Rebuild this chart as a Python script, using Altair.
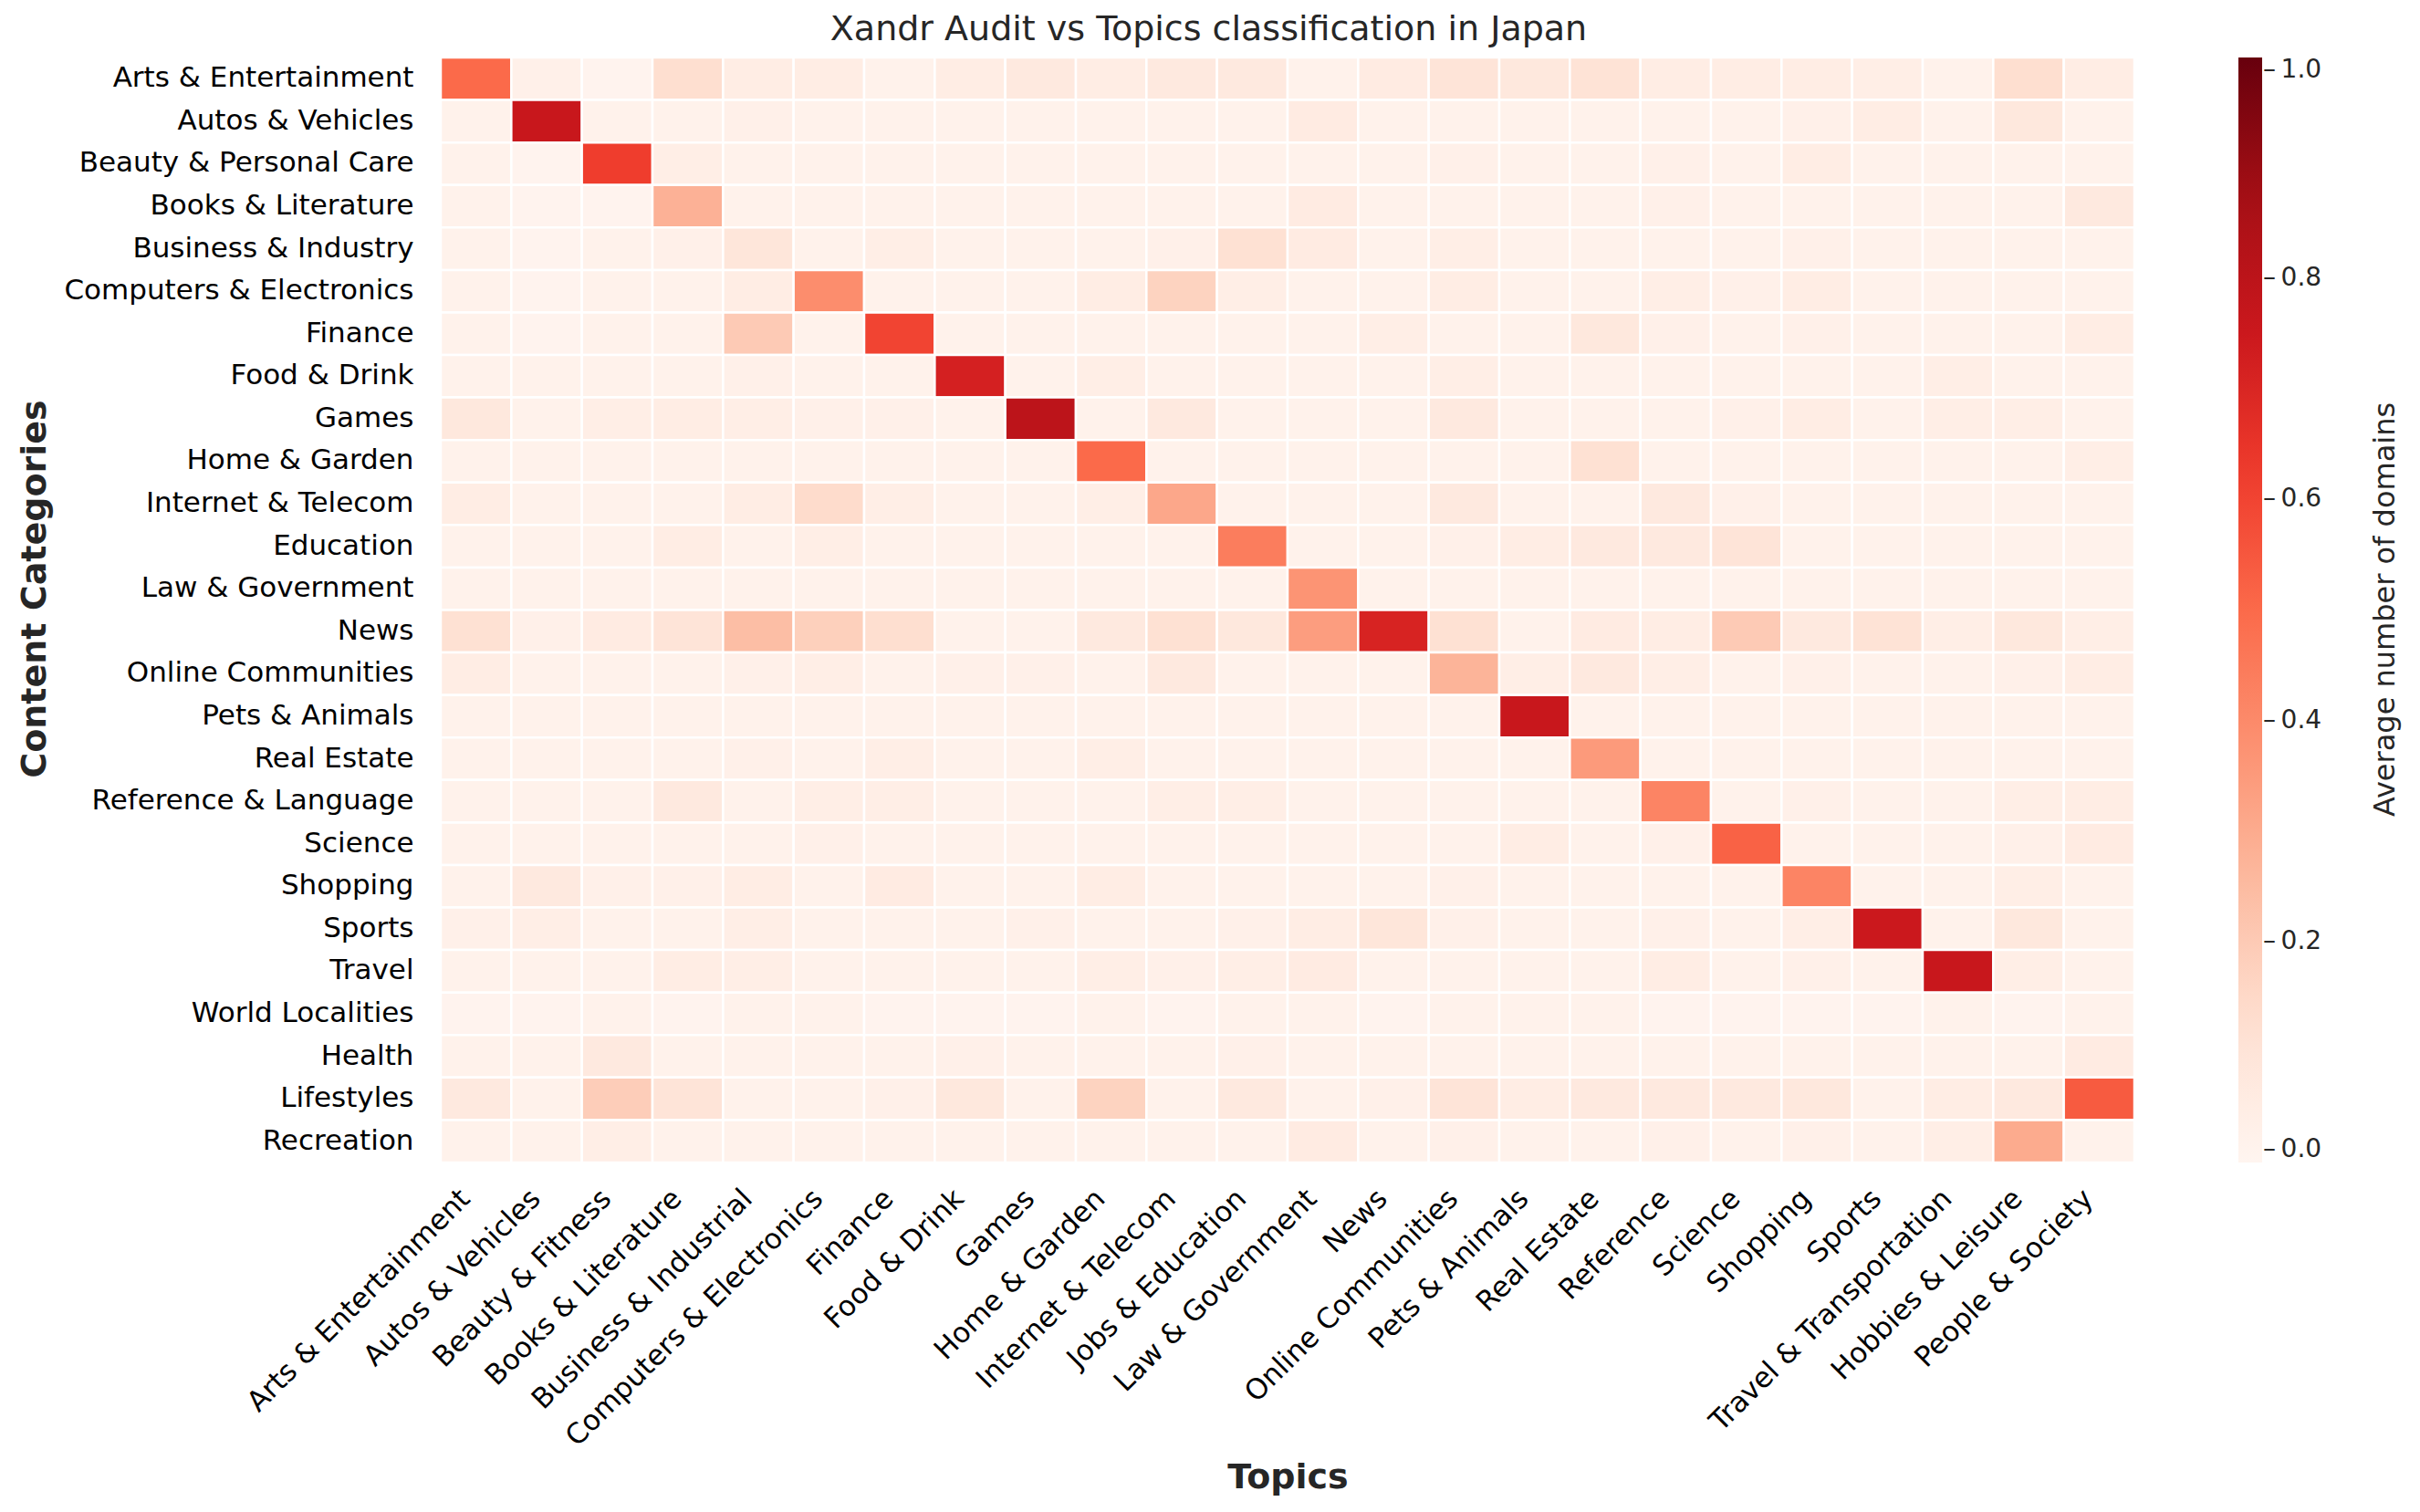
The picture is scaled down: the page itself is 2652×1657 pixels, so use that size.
import altair as alt
import pandas as pd

categories = ["Arts & Entertainment", "Autos & Vehicles", "Beauty & Personal Care", "Books & Literature",
              "Business & Industry", "Computers & Electronics", "Finance", "Food & Drink", "Games",
              "Home & Garden", "Internet & Telecom", "Education", "Law & Government", "News",
              "Online Communities", "Pets & Animals", "Real Estate", "Reference & Language", "Science",
              "Shopping", "Sports", "Travel", "World Localities", "Health", "Lifestyles", "Recreation"]

topics = ["Arts & Entertainment", "Autos & Vehicles", "Beauty & Fitness", "Books & Literature",
          "Business & Industrial", "Computers & Electronics", "Finance", "Food & Drink", "Games",
          "Home & Garden", "Internet & Telecom", "Jobs & Education", "Law & Government", "News",
          "Online Communities", "Pets & Animals", "Real Estate", "Reference", "Science", "Shopping",
          "Sports", "Travel & Transportation", "Hobbies & Leisure", "People & Society"]

row_arts = [0.50, 0.03, 0.01, 0.13, 0.05, 0.05, 0.02, 0.05, 0.07, 0.05, 0.07, 0.07, 0.02, 0.06, 0.10, 0.08, 0.11, 0.05, 0.05, 0.05, 0.04, 0.02, 0.13, 0.05]
row_autos = [0.02, 0.76, 0.02, 0.02, 0.03, 0.02, 0.02, 0.02, 0.02, 0.02, 0.02, 0.02, 0.06, 0.02, 0.02, 0.02, 0.02, 0.02, 0.02, 0.03, 0.05, 0.02, 0.08, 0.02]
row_beauty = [0.02, 0.01, 0.62, 0.04, 0.02, 0.02, 0.02, 0.02, 0.02, 0.02, 0.02, 0.02, 0.02, 0.02, 0.03, 0.02, 0.02, 0.03, 0.02, 0.05, 0.02, 0.02, 0.02, 0.02]
row_books = [0.02, 0.01, 0.01, 0.28, 0.02, 0.02, 0.02, 0.02, 0.02, 0.02, 0.02, 0.02, 0.06, 0.02, 0.02, 0.02, 0.02, 0.03, 0.02, 0.02, 0.02, 0.02, 0.02, 0.07]
row_business = [0.02, 0.01, 0.02, 0.03, 0.09, 0.02, 0.04, 0.02, 0.02, 0.02, 0.03, 0.12, 0.06, 0.02, 0.04, 0.02, 0.02, 0.02, 0.02, 0.03, 0.02, 0.02, 0.02, 0.02]
row_computers = [0.02, 0.01, 0.02, 0.02, 0.05, 0.39, 0.02, 0.02, 0.02, 0.05, 0.17, 0.04, 0.02, 0.02, 0.05, 0.02, 0.02, 0.04, 0.03, 0.05, 0.02, 0.02, 0.02, 0.02]
row_finance = [0.02, 0.01, 0.02, 0.02, 0.20, 0.02, 0.60, 0.02, 0.02, 0.02, 0.02, 0.02, 0.02, 0.04, 0.02, 0.02, 0.08, 0.03, 0.02, 0.03, 0.02, 0.02, 0.02, 0.05]
row_food = [0.02, 0.02, 0.02, 0.02, 0.03, 0.02, 0.02, 0.72, 0.02, 0.04, 0.02, 0.02, 0.02, 0.02, 0.04, 0.02, 0.02, 0.02, 0.02, 0.02, 0.02, 0.04, 0.02, 0.02]
row_games = [0.08, 0.02, 0.04, 0.05, 0.04, 0.03, 0.03, 0.02, 0.80, 0.02, 0.07, 0.02, 0.02, 0.02, 0.07, 0.02, 0.02, 0.02, 0.03, 0.05, 0.02, 0.04, 0.04, 0.02]
row_home = [0.02, 0.02, 0.02, 0.02, 0.02, 0.02, 0.02, 0.02, 0.02, 0.50, 0.02, 0.02, 0.02, 0.02, 0.02, 0.02, 0.12, 0.02, 0.02, 0.02, 0.02, 0.02, 0.02, 0.04]
row_internet = [0.05, 0.02, 0.02, 0.02, 0.05, 0.14, 0.04, 0.02, 0.02, 0.04, 0.31, 0.02, 0.02, 0.02, 0.07, 0.02, 0.02, 0.07, 0.03, 0.02, 0.02, 0.02, 0.02, 0.02]
row_education = [0.02, 0.02, 0.02, 0.05, 0.02, 0.04, 0.02, 0.02, 0.02, 0.02, 0.02, 0.44, 0.02, 0.02, 0.03, 0.05, 0.07, 0.07, 0.10, 0.02, 0.02, 0.02, 0.02, 0.02]
row_law = [0.02, 0.02, 0.02, 0.02, 0.02, 0.02, 0.02, 0.02, 0.02, 0.02, 0.02, 0.02, 0.37, 0.02, 0.02, 0.02, 0.02, 0.02, 0.02, 0.02, 0.02, 0.02, 0.02, 0.02]
row_news = [0.12, 0.03, 0.06, 0.10, 0.24, 0.18, 0.13, 0.02, 0.02, 0.07, 0.12, 0.08, 0.34, 0.71, 0.12, 0.02, 0.06, 0.05, 0.20, 0.07, 0.11, 0.04, 0.08, 0.04]
row_online = [0.05, 0.02, 0.02, 0.02, 0.03, 0.04, 0.02, 0.03, 0.03, 0.02, 0.07, 0.02, 0.02, 0.02, 0.27, 0.04, 0.07, 0.04, 0.02, 0.03, 0.02, 0.02, 0.03, 0.05]
row_pets = [0.02, 0.02, 0.02, 0.02, 0.02, 0.02, 0.02, 0.02, 0.02, 0.02, 0.02, 0.02, 0.02, 0.02, 0.02, 0.76, 0.02, 0.02, 0.02, 0.02, 0.02, 0.02, 0.02, 0.02]
row_realestate = [0.02, 0.02, 0.02, 0.02, 0.03, 0.02, 0.04, 0.02, 0.02, 0.04, 0.02, 0.02, 0.02, 0.02, 0.02, 0.02, 0.35, 0.02, 0.02, 0.02, 0.02, 0.02, 0.02, 0.02]
row_reference = [0.02, 0.02, 0.02, 0.07, 0.02, 0.04, 0.04, 0.02, 0.02, 0.02, 0.04, 0.04, 0.02, 0.02, 0.02, 0.02, 0.02, 0.42, 0.02, 0.03, 0.02, 0.02, 0.04, 0.05]
row_science = [0.02, 0.02, 0.02, 0.02, 0.02, 0.03, 0.02, 0.02, 0.02, 0.02, 0.02, 0.02, 0.02, 0.02, 0.02, 0.05, 0.02, 0.03, 0.52, 0.02, 0.02, 0.02, 0.03, 0.06]
row_shopping = [0.02, 0.07, 0.03, 0.03, 0.05, 0.02, 0.06, 0.02, 0.02, 0.05, 0.02, 0.02, 0.02, 0.02, 0.03, 0.02, 0.02, 0.02, 0.02, 0.42, 0.02, 0.02, 0.04, 0.02]
row_sports = [0.03, 0.04, 0.02, 0.02, 0.04, 0.02, 0.02, 0.02, 0.03, 0.02, 0.02, 0.03, 0.05, 0.09, 0.03, 0.02, 0.02, 0.03, 0.02, 0.04, 0.75, 0.02, 0.08, 0.02]
row_travel = [0.02, 0.02, 0.02, 0.05, 0.04, 0.02, 0.02, 0.02, 0.02, 0.04, 0.03, 0.04, 0.06, 0.02, 0.02, 0.02, 0.02, 0.05, 0.02, 0.03, 0.02, 0.76, 0.04, 0.02]
row_world = [0.01, 0.01, 0.02, 0.01, 0.02, 0.02, 0.01, 0.01, 0.01, 0.02, 0.01, 0.02, 0.02, 0.01, 0.02, 0.02, 0.02, 0.01, 0.01, 0.01, 0.01, 0.02, 0.01, 0.02]
row_health = [0.02, 0.02, 0.07, 0.02, 0.02, 0.02, 0.02, 0.03, 0.02, 0.02, 0.02, 0.03, 0.02, 0.02, 0.02, 0.02, 0.02, 0.02, 0.02, 0.02, 0.02, 0.02, 0.02, 0.06]
row_lifestyles = [0.07, 0.02, 0.19, 0.10, 0.02, 0.02, 0.03, 0.08, 0.02, 0.17, 0.02, 0.07, 0.02, 0.03, 0.10, 0.05, 0.07, 0.07, 0.07, 0.08, 0.02, 0.05, 0.07, 0.54]
row_recreation = [0.02, 0.02, 0.04, 0.02, 0.02, 0.02, 0.02, 0.02, 0.02, 0.02, 0.02, 0.02, 0.06, 0.02, 0.03, 0.02, 0.02, 0.03, 0.02, 0.03, 0.02, 0.04, 0.30, 0.02]

rows = [row_arts, row_autos, row_beauty, row_books, row_business, row_computers, row_finance,
        row_food, row_games, row_home, row_internet, row_education, row_law, row_news, row_online,
        row_pets, row_realestate, row_reference, row_science, row_shopping, row_sports, row_travel,
        row_world, row_health, row_lifestyles, row_recreation]

records = []
for cat, vals in zip(categories, rows):
    for top, v in zip(topics, vals):
        records.append({"Category": cat, "Topic": top, "Value": v})
df = pd.DataFrame(records)

reds_stops = [0, 0.125, 0.25, 0.375, 0.5, 0.625, 0.75, 0.875, 1.0]
reds_colors = ["#fff5f0", "#fee0d2", "#fcbba1", "#fc9272", "#fb6a4a", "#ef3b2c", "#cb181d", "#a50f15", "#67000d"]
colorbar_ticks = [0, 0.2, 0.4, 0.6, 0.8, 1.0]
colorbar_title = "Average number of domains"

FONT = "DejaVu Sans"

heat = alt.Chart(df).mark_rect(stroke="white", strokeWidth=2.5).encode(
    x=alt.X("Topic:N", sort=topics, scale=alt.Scale(paddingInner=0, paddingOuter=0),
            axis=alt.Axis(title="Topics", labelAngle=315, labelAlign="right", labelBaseline="bottom",
                          labelPadding=46, ticks=False, domain=False, labelFontSize=31,
                          labelFont=FONT, labelColor="black", titleFont=FONT, titleFontSize=38,
                          titleFontWeight="bold", titleColor="#262626", titleY=345,
                          titleBaseline="middle", labelLimit=1000)),
    y=alt.Y("Category:N", sort=categories, scale=alt.Scale(paddingInner=0, paddingOuter=0),
            axis=alt.Axis(title="Content Categories", labelPadding=30, ticks=False, domain=False,
                          labelFontSize=31, labelFont=FONT, labelColor="black", titleFont=FONT,
                          titleFontSize=38, titleFontWeight="bold", titleColor="#262626",
                          titleX=-445, titleY=582, titleAngle=270, titleBaseline="middle",
                          titleAlign="center", labelLimit=1000)),
    color=alt.Color("Value:Q",
                    scale=alt.Scale(domain=reds_stops, range=reds_colors, interpolate="rgb"),
                    legend=alt.Legend(title=None, orient="right", offset=114,
                                      gradientLength=1211, gradientThickness=26, direction="vertical",
                                      values=colorbar_ticks, format=".1f",
                                      labelExpr="'\u2013\u2009' + format(datum.value, '.1f')",
                                      labelFontSize=28, labelFont=FONT, labelColor="#262626",
                                      labelOffset=1, gradientStrokeWidth=0)),
)

cb_title = alt.Chart(pd.DataFrame({"t": [colorbar_title]})).mark_text(
    angle=270, fontSize=32, font=FONT, color="#262626", align="center", baseline="middle"
).encode(text="t:N", x=alt.value(2131), y=alt.value(605))

chart = alt.layer(heat, cb_title).properties(
    width=1856,
    height=1211,
    title=alt.TitleParams("Xandr Audit vs Topics classification in Japan", fontSize=38, font=FONT,
                          fontWeight="normal", color="#262626", offset=10, frame="bounds",
                          anchor="middle"),
    padding={"left": 11, "top": 5, "right": 5, "bottom": 5},
).configure_view(stroke=None)

chart.save("out.html", embed_options={"renderer": "svg", "actions": False})
